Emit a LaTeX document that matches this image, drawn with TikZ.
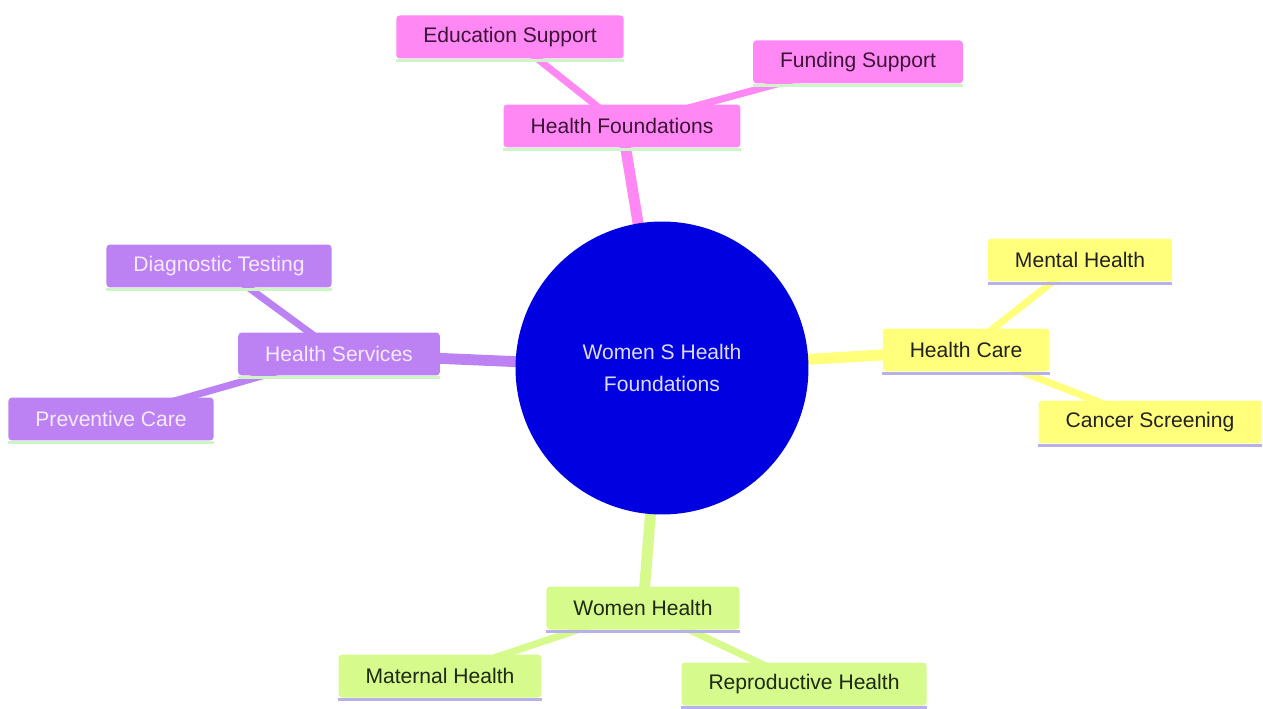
\documentclass[tikz,border=0pt]{standalone}
\usepackage{fontspec}
\setmainfont{Liberation Sans}
\usetikzlibrary{backgrounds}

\definecolor{rootblue}{HTML}{0000E0}
\definecolor{roottext}{HTML}{DCDCF8}
\definecolor{pinkfill}{HTML}{FF88F4}
\definecolor{pinktext}{HTML}{3C1438}
\definecolor{purplefill}{HTML}{BC82F4}
\definecolor{purpletext}{HTML}{F6EAFF}
\definecolor{yellowfill}{HTML}{FFFF7C}
\definecolor{yellowtext}{HTML}{222222}
\definecolor{greenfill}{HTML}{D6FA8C}
\definecolor{greentext}{HTML}{1E2A12}
\definecolor{lightgreenline}{HTML}{CDF5C8}
\definecolor{lavenderline}{HTML}{B8B0E8}

\tikzset{
    topic box/.style={
        rounded corners=2pt,
        inner xsep=0.54cm,
        minimum height=0.86cm,
        font=\fontsize{12}{14}\selectfont
    },
    pink box/.style={topic box,fill=pinkfill,text=pinktext},
    purple box/.style={topic box,fill=purplefill,text=purpletext},
    yellow box/.style={topic box,fill=yellowfill,text=yellowtext},
    green box/.style={topic box,fill=greenfill,text=greentext},
    root circle/.style={
        circle,fill=rootblue,text=roottext,
        minimum size=5.86cm,align=center,
        font=\fontsize{12}{18}\selectfont
    },
    main edge/.style={line width=6.2pt},
    sub edge/.style={line width=4pt}
}

\begin{document}
\begin{tikzpicture}[x=0.02cm,y=-0.02cm]
        \useasboundingbox (0,0) rectangle (1263,709);
        \node[root circle] (root) at (662,368) {Women S Health\\Foundations};
        % first ring
        \node[pink box] (found) at (622,126) {Health Foundations};
        \node[purple box] (serv) at (339,354) {Health Services};
        \node[yellow box] (care) at (966,350) {Health Care};
        \node[green box] (women) at (643,608) {Women Health};
        % leaves
        \node[pink box] (edu) at (510,37) {Education Support};
        \node[pink box] (fund) at (858,62) {Funding Support};
        \node[purple box] (diag) at (219,266) {Diagnostic Testing};
        \node[purple box] (prev) at (111,419) {Preventive Care};
        \node[yellow box] (mental) at (1080,260) {Mental Health};
        \node[yellow box] (cancer) at (1150,422) {Cancer Screening};
        \node[green box] (maternal) at (440,676) {Maternal Health};
        \node[green box] (repro) at (804,684) {Reproductive Health};
        \begin{scope}[on background layer]
            \foreach \to/\col in {found/pinkfill,serv/purplefill,care/yellowfill,women/greenfill}
                \draw[main edge,\col] (root.center) -- (\to.center);
            \foreach \from/\to/\col in {found/edu/pinkfill,found/fund/pinkfill,serv/diag/purplefill,serv/prev/purplefill,care/mental/yellowfill,care/cancer/yellowfill,women/maternal/greenfill,women/repro/greenfill}
                \draw[sub edge,\col] (\from.center) -- (\to.center);
        \end{scope}
        \foreach \name/\col in {found/lightgreenline,edu/lightgreenline,fund/lightgreenline,serv/lightgreenline,diag/lightgreenline,prev/lightgreenline,care/lavenderline,mental/lavenderline,cancer/lavenderline,women/lavenderline,maternal/lavenderline,repro/lavenderline}
            \draw[\col,line width=2pt] ([yshift=-1pt]\name.south west) -- ([yshift=-1pt]\name.south east);
    \end{tikzpicture}
\end{document}
